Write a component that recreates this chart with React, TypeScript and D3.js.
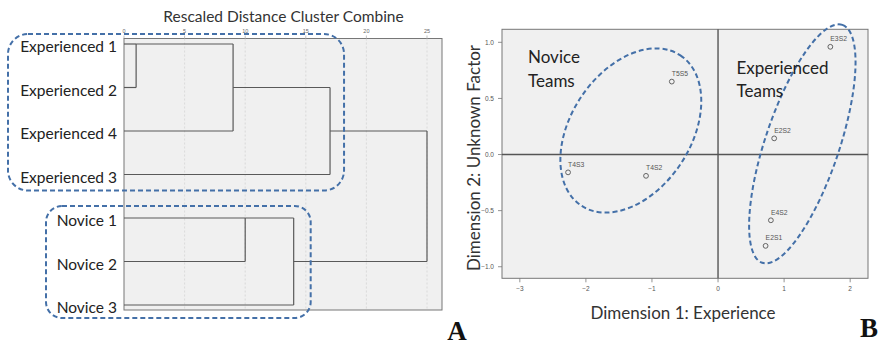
import React from "react";
import * as d3 from "d3";

// ---- Dendrogram data ----
const leaves = ["Experienced 1", "Experienced 2", "Experienced 4", "Experienced 3", "Novice 1", "Novice 2", "Novice 3"];
// merges: child indices (0..6 leaves, 7.. clusters in order) and rescaled distance
const mergeA = [0, 7, 8, 4, 10, 9];
const mergeB = [1, 2, 3, 5, 6, 11];
const mergeDist = [1, 9, 17, 10, 14, 25];
const distTicks = [0, 5, 10, 15, 20, 25];

// ---- MDS scatter data ----
const teams = ["T5S5", "E3S2", "E2S2", "T4S3", "T4S2", "E4S2", "E2S1"];
const dim1 = [-0.7, 1.7, 0.85, -2.27, -1.09, 0.8, 0.72];
const dim2 = [0.65, 0.96, 0.144, -0.159, -0.19, -0.586, -0.814];
const xTicks = [-3, -2, -1, 0, 1, 2];
const yTicks = [1.0, 0.5, 0.0, -0.5, -1.0];
// group ellipses (centre in data units)
const groupNames = ["Novice", "Experienced"];
const groupCx = [-1.32, 1.276];
const groupCy = [0.214, 0.095];

const FONT = "Lato, 'Open Sans', sans-serif";
const LINE = "#595959";
const DASH = "#4470a8";

export default function App() {
  // Left panel scales
  const dx = d3.scaleLinear().domain([0, 25]).range([124, 427]);
  const dy = d3.scaleLinear().domain([0, 6]).range([44, 305]);
  const boxL = 124, boxR = 442, boxT = 38.5, boxB = 310;

  // compute nodes
  const nodeRow: number[] = leaves.map((_, i) => i);
  const nodeDist: number[] = leaves.map(() => 0);
  const segs: { x1: number; y1: number; x2: number; y2: number }[] = [];
  mergeA.forEach((a, k) => {
    const b = mergeB[k];
    const d = mergeDist[k];
    const ra = nodeRow[a], rb = nodeRow[b];
    segs.push({ x1: dx(nodeDist[a]), y1: dy(ra), x2: dx(d), y2: dy(ra) });
    segs.push({ x1: dx(nodeDist[b]), y1: dy(rb), x2: dx(d), y2: dy(rb) });
    segs.push({ x1: dx(d), y1: dy(ra), x2: dx(d), y2: dy(rb) });
    nodeRow.push(Math.floor((ra + rb) / 2));
    nodeDist.push(d);
  });

  // Right panel scales
  const sx = d3.scaleLinear().domain([-3.27, 2.27]).range([502, 868]);
  const sy = d3.scaleLinear().domain([-1.103, 1.116]).range([278.3, 29.3]);
  const pL = 502, pR = 868, pT = 29.3, pB = 278.3;

  const ellipseR = [
    { a: 90, b: 60, rot: -56.6 },
    { a: 125.5, b: 37, rot: -71.4 },
  ];

  return (
    <svg width={878} height={343} style={{ display: "block", position: "absolute", left: 0, top: 0 }}
      xmlns="http://www.w3.org/2000/svg">
      <rect x={0} y={0} width={878} height={343} fill="#fff" />
      {/* ===== Panel A ===== */}
      <text x={283.5} y={16} textAnchor="middle" dominantBaseline="central" fontFamily={FONT} fontSize={15.5} fill="#333">
        Rescaled Distance Cluster Combine
      </text>
      <rect x={boxL} y={boxT} width={boxR - boxL} height={boxB - boxT} fill="#f0f0f0" stroke="#777" strokeWidth={1} />
      {distTicks.map((t) => (
        <g key={"dt" + t}>
          {t > 0 && (
            <line x1={dx(t)} x2={dx(t)} y1={boxT} y2={boxB} stroke="#d4d4d4" strokeDasharray="2,2" strokeWidth={0.8} />
          )}
          <line x1={dx(t)} x2={dx(t)} y1={boxT - 3} y2={boxT} stroke="#999" strokeWidth={0.6} />
          <text x={dx(t)} y={31} textAnchor="middle" dominantBaseline="central" fontFamily="'Liberation Sans', Arial, sans-serif" fontSize={5.5} fill="#666">
            {t}
          </text>
        </g>
      ))}
      {segs.map((s, i) => (
        <line key={"s" + i} x1={s.x1} y1={s.y1} x2={s.x2} y2={s.y2} stroke={LINE} strokeWidth={1.2} />
      ))}
      {leaves.map((l, i) => (
        <text key={l} x={117} y={dy(i) + 2} textAnchor="end" dominantBaseline="central" fontFamily={FONT} fontSize={15.5} fill="#222">
          {l}
        </text>
      ))}
      <rect x={8} y={dy(0) - 10} width={dx(17) + 14 - 8} height={dy(3) + 16 - (dy(0) - 10)} rx={20} ry={20}
        fill="none" stroke={DASH} strokeWidth={2} strokeDasharray="5,3" />
      <rect x={46} y={dy(4) - 12} width={dx(14) + 17 - 46} height={dy(6) + 13 - (dy(4) - 12)} rx={16} ry={16}
        fill="none" stroke={DASH} strokeWidth={2} strokeDasharray="5,3" />
      <text x={457} y={340} textAnchor="middle" fontFamily="'Liberation Serif', 'DejaVu Serif', serif" fontWeight="bold" fontSize={27} fill="#111">
        A
      </text>

      {/* ===== Panel B ===== */}
      <rect x={pL} y={pT} width={pR - pL} height={pB - pT} fill="#f0f0f0" stroke="#777" strokeWidth={1} />
      <line x1={sx(0)} x2={sx(0)} y1={pT} y2={pB} stroke="#555" strokeWidth={1.4} />
      <line x1={pL} x2={pR} y1={sy(0)} y2={sy(0)} stroke="#555" strokeWidth={1.4} />
      {xTicks.map((t) => (
        <g key={"xt" + t}>
          <line x1={sx(t)} x2={sx(t)} y1={pB} y2={pB + 4} stroke="#777" strokeWidth={0.8} />
          <text x={sx(t)} y={288.5} textAnchor="middle" dominantBaseline="central" fontFamily="'Liberation Sans', Arial, sans-serif" fontSize={6.5} fill="#555">
            {d3.format("d")(t)}
          </text>
        </g>
      ))}
      {yTicks.map((t) => (
        <g key={"yt" + t}>
          <line x1={pL - 4} x2={pL} y1={sy(t)} y2={sy(t)} stroke="#777" strokeWidth={0.8} />
          <text x={494} y={sy(t)} textAnchor="end" dominantBaseline="central" fontFamily="'Liberation Sans', Arial, sans-serif" fontSize={6.5} fill="#555">
            {d3.format(".1f")(t)}
          </text>
        </g>
      ))}
      {groupNames.map((g, i) => (
        <ellipse key={g} cx={0} cy={0} rx={ellipseR[i].a} ry={ellipseR[i].b}
          transform={`translate(${sx(groupCx[i])},${sy(groupCy[i])}) rotate(${ellipseR[i].rot})`}
          fill="none" stroke={DASH} strokeWidth={2} strokeDasharray="5,3" />
      ))}
      {teams.map((t, i) => (
        <g key={t}>
          <circle cx={sx(dim1[i])} cy={sy(dim2[i])} r={2.4} fill="none" stroke="#555" strokeWidth={0.9} />
          <text x={sx(dim1[i])} y={sy(dim2[i]) - 8} dominantBaseline="central" fontFamily="'Liberation Sans', Arial, sans-serif" fontSize={6.8} fill="#555">
            {t}
          </text>
        </g>
      ))}
      <text x={528} y={56} dominantBaseline="central" fontFamily={FONT} fontSize={17} fill="#222">Novice</text>
      <text x={528} y={80} dominantBaseline="central" fontFamily={FONT} fontSize={17} fill="#222">Teams</text>
      <text x={736.5} y={67.7} dominantBaseline="central" fontFamily={FONT} fontSize={17} fill="#222">Experienced</text>
      <text x={736.5} y={90.7} dominantBaseline="central" fontFamily={FONT} fontSize={17} fill="#222">Teams</text>

      <text x={683} y={312.7} textAnchor="middle" dominantBaseline="central" fontFamily={FONT} fontSize={17} fill="#333">
        Dimension 1: Experience
      </text>
      <text transform={`translate(473,158) rotate(-90)`} textAnchor="middle" dominantBaseline="central" fontFamily={FONT} fontSize={17} fill="#333">
        Dimension 2: Unknown Factor
      </text>
      <text x={869} y={336.7} textAnchor="middle" fontFamily="'Liberation Serif', 'DejaVu Serif', serif" fontWeight="bold" fontSize={27} fill="#111">
        B
      </text>
    </svg>
  );
}
